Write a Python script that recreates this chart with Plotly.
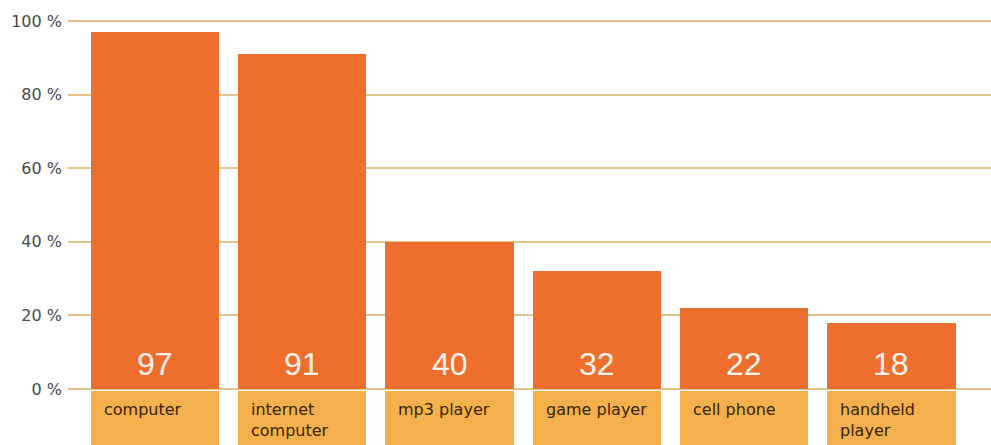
import plotly.graph_objects as go

# Share of households owning each device (%)
categories = ["computer", "internet<br>computer", "mp3 player", "game player",
              "cell phone", "handheld<br>player"]
values = [97, 91, 40, 32, 22, 18]
tick_values = [0, 20, 40, 60, 80, 100]
tick_labels = ["0 %", "20 %", "40 %", "60 %", "80 %", "100 %"]

BAR_COLOR = "#EE6E2D"
BOX_COLOR = "#F4B04C"
GRID_COLOR = "#E6C68C"
LABEL_COLOR = "#3A2400"
TICK_COLOR = "#4A4A4A"

BAR_WIDTH = 0.87
BOX_TOP = -0.4
BOX_BOTTOM = -20

x = list(range(len(categories)))

fig = go.Figure()

# main value bars
fig.add_trace(go.Bar(
    x=x, y=values, width=BAR_WIDTH,
    marker=dict(color=BAR_COLOR, line=dict(width=0)),
    hoverinfo="skip", showlegend=False,
))

# label boxes under each bar
fig.add_trace(go.Bar(
    x=x, y=[BOX_BOTTOM - BOX_TOP] * len(x), base=[BOX_TOP] * len(x),
    width=BAR_WIDTH,
    marker=dict(color=BOX_COLOR, line=dict(width=0)),
    hoverinfo="skip", showlegend=False,
))

annotations = []
for i, (cat, v) in enumerate(zip(categories, values)):
    # value printed near the bottom of each bar
    annotations.append(dict(
        x=i, y=6.8, xref="x", yref="y", text=str(v), showarrow=False,
        xanchor="center", yanchor="middle",
        font=dict(family="Liberation Sans, Arial, sans-serif", size=32,
                  color="#FFF4EC"),
    ))
    # category name inside its box
    annotations.append(dict(
        x=i - BAR_WIDTH / 2 + 0.075, y=-2.4, xref="x", yref="y", text=cat,
        showarrow=False, xanchor="left", yanchor="top", align="left",
        font=dict(family="DejaVu Sans, sans-serif", size=16, color=LABEL_COLOR),
    ))

fig.update_layout(
    width=991, height=445,
    margin=dict(l=68, r=0, t=0, b=0),
    paper_bgcolor="white", plot_bgcolor="white",
    barmode="overlay", bargap=0,
    annotations=annotations,
    xaxis=dict(range=[-0.59, 5.676], showgrid=False, zeroline=False,
               showticklabels=False, ticks="", fixedrange=True),
    yaxis=dict(range=[-15.2, 105.7], tickvals=tick_values, ticktext=tick_labels,
               showgrid=True, gridcolor=GRID_COLOR, gridwidth=2,
               zeroline=False, ticks="", ticklabelstandoff=5,
               tickfont=dict(family="DejaVu Sans, sans-serif", size=16,
                             color=TICK_COLOR),
               fixedrange=True),
)

fig.write_html("out.html")
